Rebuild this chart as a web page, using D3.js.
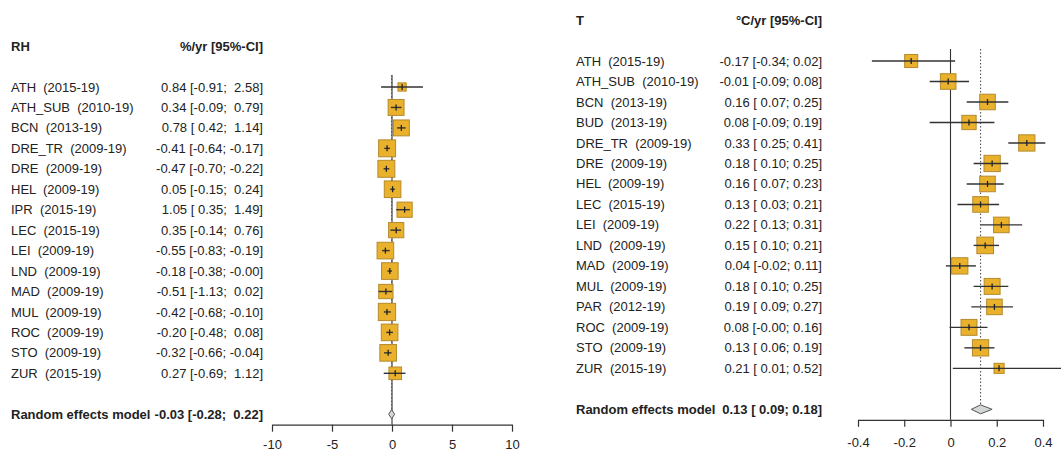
<!DOCTYPE html>
<html>
<head>
<meta charset="utf-8">
<script src="https://cdn.jsdelivr.net/npm/d3@7"></script>
<style>
  body { margin: 0; background: #fff; }
  svg text { font-family: "Liberation Sans", Arial, sans-serif; font-size: 13px; fill: #222; white-space: pre; }
</style>
</head>
<body>
<svg id="svg" width="1061" height="453"></svg>
<script>
// relative humidity trends
const rhSites = ["ATH", "ATH_SUB", "BCN", "DRE_TR", "DRE", "HEL", "IPR", "LEC", "LEI", "LND", "MAD", "MUL", "ROC", "STO", "ZUR"];
const rhPeriods = ["2015-19", "2010-19", "2013-19", "2009-19", "2009-19", "2009-19", "2015-19", "2015-19", "2009-19", "2009-19", "2009-19", "2009-19", "2009-19", "2009-19", "2015-19"];
const rhEst = [0.84, 0.34, 0.78, -0.41, -0.47, 0.05, 1.05, 0.35, -0.55, -0.18, -0.51, -0.42, -0.20, -0.32, 0.27];
const rhLower = [-0.91, -0.09, 0.42, -0.64, -0.70, -0.15, 0.35, -0.14, -0.83, -0.38, -1.13, -0.68, -0.48, -0.66, -0.69];
const rhUpper = [2.58, 0.79, 1.14, -0.17, -0.22, 0.24, 1.49, 0.76, -0.19, -0.004, 0.02, -0.10, 0.08, -0.04, 1.12];
const rhWeight = [1.8, 6.7, 6.7, 7.6, 7.6, 7.3, 6.1, 6.1, 7.3, 7.3, 5.4, 7.9, 7.3, 7.3, 4.2];
const rhModel = [-0.03, -0.28, 0.22];
const rhTicks = [-10, -5, 0, 5, 10];

// temperature trends
const tSites = ["ATH", "ATH_SUB", "BCN", "BUD", "DRE_TR", "DRE", "HEL", "LEC", "LEI", "LND", "MAD", "MUL", "PAR", "ROC", "STO", "ZUR"];
const tPeriods = ["2015-19", "2010-19", "2013-19", "2013-19", "2009-19", "2009-19", "2009-19", "2015-19", "2009-19", "2009-19", "2009-19", "2009-19", "2012-19", "2009-19", "2009-19", "2015-19"];
const tEst = [-0.17, -0.01, 0.16, 0.08, 0.33, 0.18, 0.16, 0.13, 0.22, 0.15, 0.04, 0.18, 0.19, 0.08, 0.13, 0.21];
const tLower = [-0.34, -0.09, 0.07, -0.09, 0.25, 0.10, 0.07, 0.03, 0.13, 0.10, -0.02, 0.10, 0.09, -0.004, 0.06, 0.01];
const tUpper = [0.02, 0.08, 0.25, 0.19, 0.41, 0.25, 0.23, 0.21, 0.31, 0.21, 0.11, 0.25, 0.27, 0.16, 0.19, 0.52];
const tWeight = [4.5, 6.4, 6.4, 5.4, 7.0, 7.0, 6.4, 6.4, 6.4, 7.3, 7.0, 6.7, 6.4, 6.7, 7.0, 2.7];
const tModel = [0.13, 0.09, 0.18];
const tTicks = [-0.4, -0.2, 0, 0.2, 0.4];

const svg = d3.select("#svg");
svg.append("rect").attr("width", 1061).attr("height", 453).attr("fill", "#fff");

const boxSize = d3.scaleSqrt().domain([0, 8]).range([0, 17.4]);
const fmt = v => v.toFixed(2);

function forest(p) {
    const g = svg.append("g");
    const x = d3.scaleLinear().domain(d3.extent(p.ticks)).range(p.range);
    const y = i => p.row0 + i * p.step;
    const n = p.sites.length;
    const yModel = y(n + 1);
    const axisY = yModel + 10.5;
    const top = y(0) - 12;
    const dh = 4.5; // half height of the diamond

    // header
    g.append("text").attr("x", p.labelX).attr("y", y(-2)).attr("dy", "0.35em")
        .attr("font-weight", "bold").text(p.title);
    g.append("text").attr("x", p.valueX).attr("y", y(-2)).attr("dy", "0.35em")
        .attr("text-anchor", "end").attr("font-weight", "bold").text(p.unit);

    // study labels and values
    const wLo = d3.max(p.lower.concat(p.model[1]), v => fmt(v).length);
    const wHi = d3.max(p.upper.concat(p.model[2]), v => fmt(v).length);
    const ci = (e, l, u) => `${fmt(e)} [${fmt(l).padStart(wLo)}; ${fmt(u).padStart(wHi)}]`;

    g.selectAll("text.lab").data(p.sites).join("text")
        .attr("class", "lab")
        .attr("x", p.labelX).attr("y", (d, i) => y(i)).attr("dy", "0.35em")
        .text((d, i) => `${d}  (${p.periods[i]})`);
    g.selectAll("text.val").data(p.est).join("text")
        .attr("class", "val")
        .attr("x", p.valueX).attr("y", (d, i) => y(i)).attr("dy", "0.35em")
        .attr("text-anchor", "end")
        .text((d, i) => ci(d, p.lower[i], p.upper[i]));

    g.append("text").attr("x", p.labelX).attr("y", yModel).attr("dy", "0.35em")
        .attr("font-weight", "bold").text("Random effects model");
    g.append("text").attr("x", p.valueX).attr("y", yModel).attr("dy", "0.35em")
        .attr("text-anchor", "end").attr("font-weight", "bold")
        .text(ci(p.model[0], p.model[1], p.model[2]));

    // reference lines
    g.append("line").attr("x1", x(0)).attr("x2", x(0)).attr("y1", top).attr("y2", axisY)
        .attr("stroke", "#333").attr("stroke-width", 1.1);
    g.append("line").attr("x1", x(p.model[0])).attr("x2", x(p.model[0]))
        .attr("y1", top).attr("y2", yModel - dh)
        .attr("stroke", "#555").attr("stroke-width", 1.1).attr("stroke-dasharray", "1.5,2");

    // squares
    const rows = p.est.map((e, i) => ({ e, lo: p.lower[i], hi: p.upper[i], w: p.weight[i], i }));
    g.selectAll("rect.box").data(rows).join("rect")
        .attr("class", "box")
        .attr("x", d => x(d.e) - boxSize(d.w) / 2)
        .attr("y", d => y(d.i) - boxSize(d.w) / 2)
        .attr("width", d => boxSize(d.w)).attr("height", d => boxSize(d.w))
        .attr("fill", "#E9B12C").attr("stroke", "#B48A2C").attr("stroke-width", 1);
    g.selectAll("line.ci").data(rows).join("line")
        .attr("class", "ci")
        .attr("x1", d => x(d.lo)).attr("x2", d => x(d.hi))
        .attr("y1", d => y(d.i)).attr("y2", d => y(d.i))
        .attr("stroke", "#333").attr("stroke-width", 1.4);
    g.selectAll("line.mid").data(rows).join("line")
        .attr("class", "mid")
        .attr("x1", d => x(d.e)).attr("x2", d => x(d.e))
        .attr("y1", d => y(d.i) - 3).attr("y2", d => y(d.i) + 3)
        .attr("stroke", "#222").attr("stroke-width", 1.3);

    // pooled estimate
    const [m, ml, mu] = p.model;
    g.append("path")
        .attr("d", `M${x(ml)},${yModel}L${x(m)},${yModel - dh}L${x(mu)},${yModel}L${x(m)},${yModel + dh}Z`)
        .attr("fill", "#D3D8D5").attr("stroke", "#555").attr("stroke-width", 1);

    // axis
    const ax = g.append("g").attr("transform", `translate(0,${axisY})`)
        .call(d3.axisBottom(x).tickValues(p.ticks).tickFormat(d => d === 0 ? "0" : String(d))
            .tickSize(7).tickSizeOuter(0).tickPadding(p.pad));
    ax.select(".domain").attr("stroke", "#333").attr("stroke-width", 1.2);
    ax.selectAll(".tick line").attr("stroke", "#333").attr("stroke-width", 1.2);
    ax.selectAll(".tick text").attr("font-size", 13).attr("fill", "#222")
        .attr("font-family", "Liberation Sans, Arial, sans-serif");
}

forest({
    title: "RH", unit: "%/yr [95%-CI]",
    sites: rhSites, periods: rhPeriods, est: rhEst, lower: rhLower, upper: rhUpper,
    weight: rhWeight, model: rhModel, ticks: rhTicks,
    labelX: 11, valueX: 263, row0: 87, step: 20.45, range: [272, 512], pad: 8
});

forest({
    title: "T", unit: "°C/yr [95%-CI]",
    sites: tSites, periods: tPeriods, est: tEst, lower: tLower, upper: tUpper,
    weight: tWeight, model: tModel, ticks: tTicks,
    labelX: 576, valueX: 822, row0: 61, step: 20.49, range: [858, 1043], pad: 11
});
</script>
</body>
</html>
